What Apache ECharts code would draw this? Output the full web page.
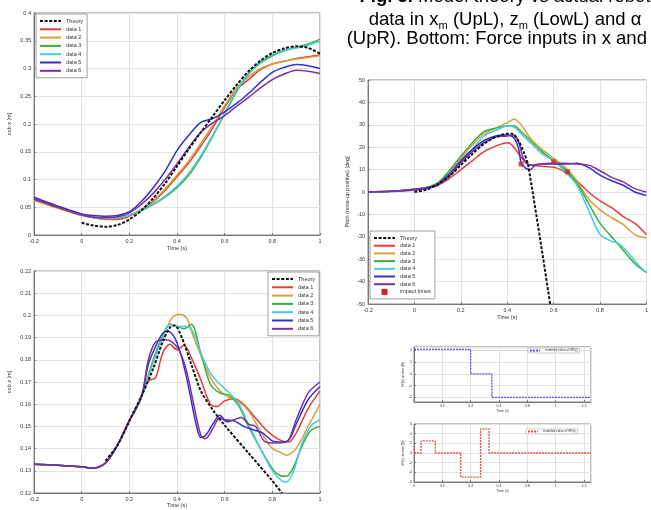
<!DOCTYPE html>
<html><head><meta charset="utf-8">
<script src="https://cdn.jsdelivr.net/npm/echarts@6/dist/echarts.min.js"></script>
<style>html,body{margin:0;padding:0;background:#fff;overflow:hidden}#c{width:651px;height:510px}</style>
</head><body><div id="c"></div>
<script>
// ---------- DATA ----------
const seriesNames = ['data 1','data 2','data 3','data 4','data 5','data 6'];

// Upper-left: cob x [m]
const cobXTheory = [[0,0.022],[0.05,0.017],[0.1,0.015],[0.15,0.018],[0.2,0.028],[0.25,0.044],[0.3,0.066],[0.35,0.093],[0.4,0.124],[0.45,0.155],[0.5,0.185],[0.55,0.214],[0.6,0.243],[0.65,0.27],[0.7,0.295],[0.75,0.314],[0.8,0.328],[0.85,0.336],[0.9,0.34],[0.95,0.337],[1.0,0.327]];
const cobXTime = [-0.2,-0.1,0,0.05,0.1,0.15,0.2,0.25,0.3,0.35,0.4,0.45,0.5,0.55,0.6,0.65,0.7,0.75,0.8,0.85,0.9,0.95,1.0];
const cobXData1 = [0.063,0.049,0.036,0.031,0.028,0.028,0.034,0.045,0.06,0.08,0.105,0.13,0.16,0.193,0.23,0.262,0.28,0.298,0.308,0.313,0.318,0.321,0.325];
const cobXData2 = [0.062,0.048,0.035,0.031,0.029,0.03,0.035,0.046,0.062,0.083,0.108,0.134,0.165,0.198,0.233,0.265,0.285,0.3,0.308,0.313,0.317,0.32,0.323];
const cobXData3 = [0.066,0.05,0.037,0.032,0.03,0.031,0.036,0.044,0.055,0.068,0.085,0.108,0.14,0.178,0.218,0.258,0.29,0.31,0.323,0.332,0.338,0.344,0.353];
const cobXData4 = [0.067,0.051,0.037,0.032,0.03,0.031,0.036,0.045,0.056,0.07,0.088,0.112,0.143,0.18,0.22,0.26,0.292,0.312,0.325,0.333,0.337,0.342,0.349];
const cobXData5 = [0.068,0.052,0.038,0.035,0.034,0.035,0.042,0.06,0.085,0.115,0.152,0.18,0.203,0.21,0.222,0.237,0.255,0.275,0.293,0.302,0.307,0.305,0.3];
const cobXData6 = [0.065,0.05,0.036,0.032,0.031,0.033,0.04,0.055,0.075,0.1,0.128,0.158,0.185,0.202,0.215,0.232,0.248,0.265,0.28,0.29,0.297,0.295,0.291];

// Lower-left: cob z [m]
const cobZTheory = [[0.1,0.1345],[0.15,0.1415],[0.2,0.1525],[0.25,0.1635],[0.3,0.176],[0.34,0.188],[0.37,0.1945],[0.39,0.1955],[0.42,0.19],[0.46,0.178],[0.5,0.166],[0.55,0.1575],[0.6,0.1505],[0.7,0.138],[0.8,0.1255],[0.84,0.12]];
const cobZRise = [[-0.2,0.133],[-0.1,0.1325],[0,0.1318],[0.05,0.1312],[0.1,0.1335],[0.15,0.1415],[0.2,0.1525],[0.25,0.163]];
const cobZData1 = [[0.28,0.1705],[0.31,0.172],[0.34,0.183],[0.37,0.187],[0.4,0.1845],[0.43,0.1865],[0.46,0.181],[0.5,0.171],[0.54,0.16],[0.57,0.159],[0.6,0.1615],[0.64,0.1625],[0.68,0.16],[0.72,0.155],[0.76,0.15],[0.8,0.146],[0.84,0.1435],[0.87,0.143],[0.9,0.147],[0.95,0.158],[1.0,0.166]];
const cobZData2 = [[0.3,0.179],[0.34,0.19],[0.38,0.199],[0.41,0.2005],[0.44,0.199],[0.47,0.19],[0.5,0.182],[0.54,0.172],[0.58,0.166],[0.62,0.163],[0.66,0.161],[0.7,0.157],[0.75,0.148],[0.8,0.14],[0.83,0.1385],[0.86,0.137],[0.9,0.14],[0.95,0.15],[1.0,0.16]];
const cobZData3 = [[0.3,0.18],[0.34,0.191],[0.37,0.196],[0.4,0.195],[0.43,0.194],[0.46,0.196],[0.5,0.183],[0.54,0.169],[0.58,0.165],[0.62,0.164],[0.66,0.159],[0.7,0.15],[0.75,0.14],[0.8,0.131],[0.83,0.128],[0.86,0.1275],[0.89,0.132],[0.92,0.14],[0.96,0.148],[1.0,0.15]];
const cobZData4 = [[0.3,0.179],[0.34,0.19],[0.37,0.196],[0.4,0.195],[0.44,0.195],[0.47,0.192],[0.5,0.183],[0.54,0.174],[0.58,0.169],[0.62,0.165],[0.66,0.16],[0.7,0.151],[0.75,0.14],[0.8,0.13],[0.84,0.1255],[0.86,0.125],[0.89,0.13],[0.92,0.141],[0.96,0.15],[1.0,0.153]];
const cobZData5 = [[0.28,0.178],[0.31,0.186],[0.34,0.192],[0.36,0.193],[0.39,0.19],[0.42,0.181],[0.45,0.167],[0.48,0.151],[0.5,0.145],[0.52,0.146],[0.55,0.151],[0.58,0.155],[0.6,0.153],[0.64,0.1525],[0.68,0.15],[0.72,0.1485],[0.76,0.147],[0.8,0.1435],[0.84,0.143],[0.87,0.144],[0.9,0.151],[0.95,0.162],[1.0,0.168]];
const cobZData6 = [[0.28,0.18],[0.31,0.188],[0.35,0.189],[0.38,0.188],[0.41,0.184],[0.44,0.175],[0.47,0.16],[0.5,0.146],[0.52,0.1445],[0.55,0.149],[0.58,0.154],[0.61,0.152],[0.64,0.153],[0.67,0.154],[0.7,0.151],[0.73,0.15],[0.77,0.143],[0.81,0.1425],[0.86,0.143],[0.9,0.153],[0.95,0.165],[1.0,0.17]];

// Upper-right: pitch [deg]
const pitchTheory = [[0,0],[0.05,1],[0.1,3.5],[0.15,7],[0.2,12],[0.25,17],[0.3,21.5],[0.35,24.5],[0.4,26],[0.42,26],[0.45,22.5],[0.47,18],[0.49,12],[0.585,-50]];
const pitchData1 = [[-0.2,0],[-0.1,0.2],[0,0.8],[0.05,1.5],[0.1,3],[0.15,6],[0.2,10],[0.25,14],[0.3,18],[0.35,20.5],[0.4,22],[0.42,21],[0.45,17],[0.48,13],[0.5,12],[0.55,11.5],[0.6,11],[0.63,10],[0.66,8],[0.7,5],[0.75,0],[0.8,-4],[0.85,-7],[0.9,-11],[0.95,-14],[1.0,-19]];
const pitchData2 = [[-0.2,0],[-0.1,0.3],[0,1.2],[0.05,2],[0.1,4],[0.15,9],[0.2,15],[0.25,21],[0.3,26],[0.35,28.5],[0.4,31],[0.43,32.5],[0.46,30],[0.5,24],[0.55,19],[0.6,15],[0.65,11],[0.7,5],[0.75,-3],[0.8,-8],[0.85,-11.5],[0.9,-14.5],[0.95,-19],[1.0,-20.5]];
const pitchData3 = [[-0.2,0],[-0.1,0.3],[0,1.2],[0.05,2],[0.1,4],[0.15,9.5],[0.2,16],[0.25,22],[0.3,27],[0.35,28.5],[0.4,29.5],[0.43,29.5],[0.46,27],[0.5,23],[0.55,18],[0.6,14],[0.65,10],[0.7,4],[0.75,-5],[0.8,-14],[0.85,-20],[0.9,-26],[0.95,-32],[1.0,-36]];
const pitchData4 = [[-0.2,0],[-0.1,0.3],[0,1],[0.05,1.8],[0.1,3.5],[0.15,8],[0.2,13],[0.25,19],[0.3,25],[0.35,27.5],[0.4,29.5],[0.43,29],[0.46,26],[0.5,22],[0.55,17],[0.6,14],[0.65,9],[0.7,3],[0.75,-8],[0.8,-19],[0.85,-22],[0.88,-23],[0.92,-27],[0.96,-32],[1.0,-36]];
const pitchData5 = [[-0.2,0],[-0.1,0.3],[0,1.2],[0.05,1.8],[0.1,3.5],[0.15,8],[0.2,14],[0.25,19],[0.3,23],[0.35,25],[0.4,25.5],[0.43,24],[0.45,19],[0.46,13],[0.48,10.5],[0.5,10],[0.52,12],[0.55,12.5],[0.6,12.5],[0.65,12.5],[0.7,12.8],[0.75,11],[0.8,7.5],[0.85,5],[0.9,3],[0.95,0],[1.0,-1.5]];
const pitchData6 = [[-0.2,0],[-0.1,0.3],[0,1],[0.05,1.5],[0.1,3],[0.15,7],[0.2,13],[0.25,18],[0.3,22],[0.35,24.5],[0.4,25],[0.43,25.5],[0.45,22],[0.47,15],[0.5,12],[0.55,12.5],[0.6,13],[0.65,12.8],[0.7,12.5],[0.75,12],[0.8,9.5],[0.85,6.5],[0.9,4.5],[0.95,1.5],[1.0,0]];
const impactTimes = [[0.46,12.5],[0.6,13.5],[0.66,9]];

// Bottom-right: modeled force inputs (step)
const forceXTime = [0, 0.4, 0.55, 1.25];
const forceXValue = [2.1, 0, -2, -2];
const forceZTime = [0, 0.05, 0.15, 0.33, 0.47, 0.53, 1.25];
const forceZValue = [0, 2.5, 0, -5, 5, 0, 0];

// ---------- STYLE ----------
const FONT = 'Liberation Sans, Arial, sans-serif';
const dataColors = ['#df3f3a','#d8a03c','#3cae3c','#48cbe0','#3030d0','#7d2f9f'];
const zip = (t, v) => t.map((x, i) => [x, v[i]]);

function axes(gi, o) {
  const lab = {fontSize: o.fs, color: '#333', fontFamily: FONT, margin: o.lm || 3, showMaxLabel: o.showMax !== false, showMinLabel: o.showMin !== false};
  const common = {gridIndex: gi, type: 'value',
    axisLine: {show: true, onZero: false, lineStyle: {color: '#777', width: 1}},
    axisTick: {show: true, inside: true, length: 2, lineStyle: {color: '#777'}},
    splitLine: {show: true, lineStyle: {color: '#e2e2e2', width: 1}},
    nameLocation: 'middle', nameTextStyle: {fontSize: o.nfs, color: '#333', fontFamily: FONT}};
  const x = Object.assign({}, common, {min: o.xmin, max: o.xmax, interval: o.xint, name: o.xname, nameGap: o.xgap,
    axisLabel: Object.assign({}, lab, {showMaxLabel: o.xShowMax !== false})});
  const y = Object.assign({}, common, {min: o.ymin, max: o.ymax, name: o.yname, nameGap: o.ygap, axisLabel: Object.assign({}, lab)});
  if (o.yint) y.interval = o.yint;
  return [x, y];
}

const axList = [
  axes(0, {xmin:-0.2,xmax:1,xint:0.2,ymin:0,ymax:0.4,yint:0.05,fs:5.5,nfs:5.5,xname:'Time (s)',xgap:10,yname:'cob x [m]',ygap:22}),
  axes(1, {xmin:-0.2,xmax:1,xint:0.2,ymin:0.12,ymax:0.22,yint:0.01,fs:5.5,nfs:5.5,xname:'Time (s)',xgap:9,yname:'cob z [m]',ygap:22}),
  axes(2, {xmin:-0.2,xmax:1,xint:0.2,ymin:-50,ymax:50,yint:10,fs:5.5,nfs:5.5,xname:'Time (s)',xgap:10,yname:'Pitch (nose-up positive) [deg]',ygap:18}),
  axes(3, {xmin:0,xmax:1.25,xint:0.2,xShowMax:false,ymin:-2.4,ymax:2.3,showMin:false,showMax:false,fs:3.5,nfs:3.5,lm:2,xname:'Time (s)',xgap:7,yname:'δF(x) at time (N)',ygap:9}),
  axes(4, {xmin:0,xmax:1.25,xint:0.2,xShowMax:false,ymin:-6,ymax:6,yint:2,fs:3.5,nfs:3.5,lm:2,xname:'Time (s)',xgap:7,yname:'δF(z) at time (N)',ygap:9})
];

const series = [];
function addLine(name, data, gi, color, dashed, width) {
  series.push({type: 'line', name, data, xAxisIndex: gi, yAxisIndex: gi, symbol: 'none', smooth: 0.3,
    lineStyle: {color, width: width || 1.5, type: dashed ? [3, 1.6] : 'solid'}, itemStyle: {color}, z: dashed ? 5 : 3, silent: true});
}
const cobXSets = [cobXData1,cobXData2,cobXData3,cobXData4,cobXData5,cobXData6];
addLine('Theory', cobXTheory, 0, '#111', true, 2);
cobXSets.forEach((v, i) => addLine(seriesNames[i], zip(cobXTime, v), 0, dataColors[i]));
const cobZSets = [cobZData1,cobZData2,cobZData3,cobZData4,cobZData5,cobZData6];
addLine('Theory', cobZTheory, 1, '#111', true, 2);
cobZSets.forEach((v, i) => addLine(seriesNames[i], cobZRise.concat(v), 1, dataColors[i]));
const pitchSets = [pitchData1,pitchData2,pitchData3,pitchData4,pitchData5,pitchData6];
addLine('Theory', pitchTheory, 2, '#111', true, 2);
pitchSets.forEach((v, i) => addLine(seriesNames[i], v, 2, dataColors[i]));
series.push({type: 'scatter', name: 'impact times', data: impactTimes, xAxisIndex: 2, yAxisIndex: 2,
  symbol: 'rect', symbolSize: 5, itemStyle: {color: '#d42020'}, z: 6, silent: true});
series.push({type: 'line', name: 'modeled value of δF(x)', data: zip(forceXTime, forceXValue), xAxisIndex: 3, yAxisIndex: 3,
  step: 'end', symbol: 'none', lineStyle: {color: '#5555e0', width: 1.3, type: [2, 1]}, itemStyle: {color: '#5555e0'}, silent: true});
series.push({type: 'line', name: 'modeled value of δF(z)', data: zip(forceZTime, forceZValue), xAxisIndex: 4, yAxisIndex: 4,
  step: 'end', symbol: 'none', lineStyle: {color: '#e05050', width: 1.3, type: [2, 1]}, itemStyle: {color: '#e05050'}, silent: true});

function legend(left, top, names, gap) {
  return {left, top, orient: 'vertical', data: names, itemWidth: 21, itemHeight: 6, itemGap: gap,
    itemStyle: {opacity: 0},
    backgroundColor: '#fff', borderColor: '#888', borderWidth: 0.8, padding: [4, 4, 4, 3], selectedMode: false,
    textStyle: {fontSize: 5.5, color: '#333', fontFamily: FONT}};
}
const mainNames = ['Theory'].concat(seriesNames);
const smallLegend = (left, top, name) => ({left, top, data: [name], itemWidth: 10, itemHeight: 3, itemStyle: {opacity: 0},
  backgroundColor: '#fff', borderColor: '#999', borderWidth: 0.5, padding: [1,2,1,1], selectedMode: false,
  textStyle: {fontSize: 3.2, color: '#333', fontFamily: FONT}});
const legends = [
  legend(36, 14, mainNames, 2.3),
  legend(268, 272, mainNames, 2.3),
  legend(370, 231, mainNames.concat([{name: 'impact times', icon: 'path://M3,0L7,0L7,4L3,4Z', itemStyle: {opacity: 1, color: '#d42020'}}]), 1.7),
  smallLegend(528, 348, 'modeled value of δF(x)'),
  smallLegend(526, 429, 'modeled value of δF(z)')
];

const gridBox = {show: true, borderColor: '#888', borderWidth: 1, backgroundColor: '#fff', containLabel: false};
const grids = [
  Object.assign({left: 34, top: 13, width: 286, height: 222}, gridBox),
  Object.assign({left: 34, top: 271, width: 286, height: 222}, gridBox),
  Object.assign({left: 368, top: 80, width: 284, height: 224}, gridBox),
  Object.assign({left: 414, top: 347, width: 177, height: 55}, gridBox),
  Object.assign({left: 414, top: 424, width: 177, height: 58}, gridBox)
];

const capFs = 18.5;
const graphic = [
  {type: 'text', x: 505, y: -3, silent: true, style: {text: '{b|Fig. 3.} Model theory vs actual robot', fontSize: capFs, fontFamily: FONT, fill: '#000', align: 'center', verticalAlign: 'middle',
    rich: {b: {fontWeight: 'bold', fontSize: capFs, fontFamily: FONT, fill: '#000'}}}},
  {type: 'text', x: 505, y: 20.2, silent: true, style: {text: '{a|data in x}{s|m}{a| (UpL), z}{s|m}{a| (LowL) and α}', fill: '#000', align: 'center', verticalAlign: 'middle',
    rich: {a: {fontSize: capFs, fontFamily: FONT, lineHeight: 22, fill: '#000'}, s: {fontSize: 11, fontFamily: FONT, lineHeight: 8, verticalAlign: 'bottom', fill: '#000'}}}},
  {type: 'text', x: 504, y: 38.5, silent: true, style: {text: '(UpR). Bottom: Force inputs in x and z', fontSize: capFs, fontFamily: FONT, fill: '#000', align: 'center', verticalAlign: 'middle'}}
];

const chart = echarts.init(document.getElementById('c'), null, {renderer: 'canvas'});
chart.setOption({
  backgroundColor: '#fff',
  animation: false,
  grid: grids,
  xAxis: axList.map(a => a[0]),
  yAxis: axList.map(a => a[1]),
  legend: legends,
  series,
  graphic
});
</script></body></html>
